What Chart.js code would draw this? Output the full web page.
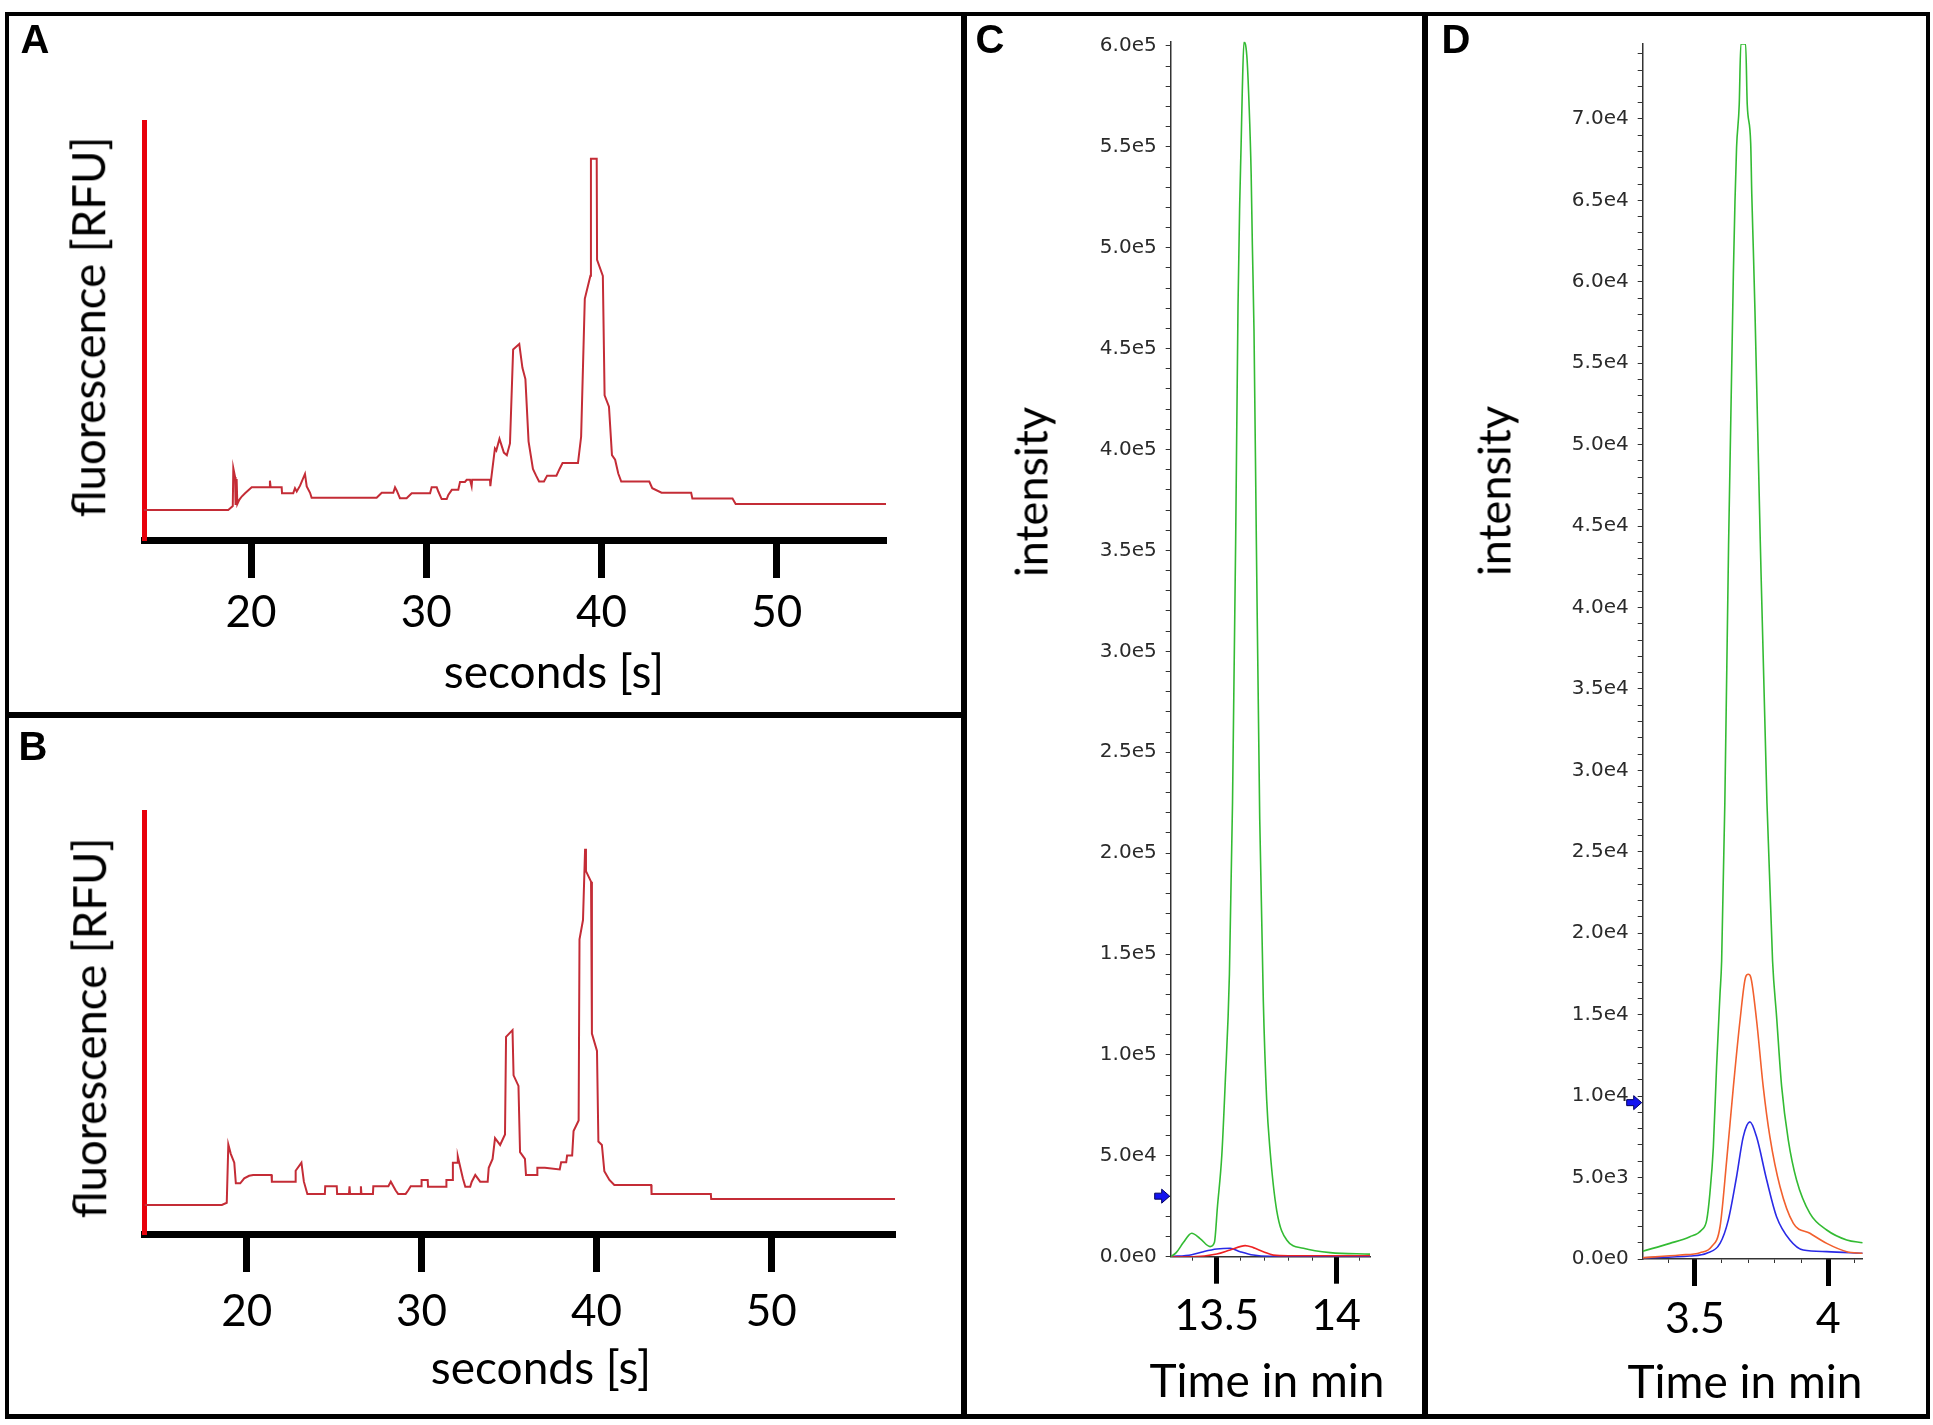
<!DOCTYPE html>
<html>
<head>
<meta charset="utf-8">
<script src="https://cdn.jsdelivr.net/npm/chart.js@4.4.1/dist/chart.umd.min.js"></script>
<style>
  html, body { margin: 0; background: #fff; }
  #page { position: relative; width: 1933px; height: 1425px; overflow: hidden; background: #fff; }
  .rule { position: absolute; background: #000; z-index: 3; }
  .lbl { position: absolute; z-index: 4; white-space: nowrap; line-height: 1; color: #000;
         font-family: Lato, "Open Sans", sans-serif; transform: translate(-50%, -50%); }
  .rot { transform: translate(-50%, -50%) rotate(-90deg); }
  .letter { font-family: "Liberation Sans", Arial, sans-serif; font-weight: bold; font-size: 40px; }
</style>
</head>
<body>
<div id="page">
  <!-- frame -->
  <div class="rule" style="left:5px;top:12px;width:1925px;height:4px"></div>
  <div class="rule" style="left:5px;top:1414px;width:1925px;height:5px"></div>
  <div class="rule" style="left:5px;top:12px;width:4px;height:1407px"></div>
  <div class="rule" style="left:1926px;top:12px;width:4px;height:1407px"></div>
  <div class="rule" style="left:961px;top:12px;width:6px;height:1407px"></div>
  <div class="rule" style="left:1422px;top:12px;width:6px;height:1407px"></div>
  <div class="rule" style="left:5px;top:712px;width:959px;height:6px"></div>

  <!-- panel letters -->
  <div class="lbl letter" style="left:35px;top:39px">A</div>
  <div class="lbl letter" style="left:33px;top:746px">B</div>
  <div class="lbl letter" style="left:990px;top:39px">C</div>
  <div class="lbl letter" style="left:1456px;top:39px">D</div>

  <!-- axis titles -->
  <div class="lbl rot" style="left:88px;top:327px;font-size:45.5px">fluorescence [RFU]</div>
  <div class="lbl" style="left:554px;top:671px;font-size:46px">seconds [s]</div>
  <div class="lbl rot" style="left:89px;top:1028px;font-size:45.5px">fluorescence [RFU]</div>
  <div class="lbl" style="left:541px;top:1367px;font-size:46px">seconds [s]</div>
  <div class="lbl rot" style="left:1031px;top:492px;font-size:45px">intensity</div>
  <div class="lbl" style="left:1267px;top:1380px;font-size:46px">Time in min</div>
  <div class="lbl rot" style="left:1494px;top:491px;font-size:45px">intensity</div>
  <div class="lbl" style="left:1745px;top:1381px;font-size:46px">Time in min</div>
</div>

<script>
// ---- panel A: electropherogram ----
const aTime = [13.893, 18.70, 18.96, 18.99, 19.09, 19.12, 19.18, 19.22, 19.33, 19.47, 19.66, 20.04, 21.04, 21.08, 21.12, 21.75, 21.77, 22.41, 22.51, 22.61, 22.80, 23.08, 23.18, 23.37, 23.46, 27.17, 27.46, 28.12, 28.22, 28.32, 28.50, 28.88, 29.17, 30.22, 30.31, 30.60, 30.69, 30.88, 31.17, 31.26, 31.46, 31.83, 31.93, 32.21, 32.31, 32.50, 32.59, 32.62, 33.64, 33.66, 33.70, 33.92, 34.00, 34.18, 34.43, 34.60, 34.78, 34.96, 35.31, 35.49, 35.66, 35.84, 36.09, 36.27, 36.44, 36.72, 36.90, 37.43, 37.61, 37.78, 38.66, 38.84, 39.05, 39.37, 39.40, 39.73, 39.75, 40.08, 40.18, 40.43, 40.60, 40.78, 40.96, 41.13, 42.73, 42.90, 43.43, 45.12, 45.19, 47.48, 47.66, 56.24];
const aSignal = [7.2, 7.2, 8.1, 17.2, 15.1, 8.4, 14.6, 8.6, 9.6, 10.4, 11.2, 12.6, 12.6, 14.2, 12.6, 12.6, 11.2, 11.2, 12.4, 11.6, 13.0, 15.8, 12.8, 11.3, 10.1, 10.1, 11.3, 11.3, 12.6, 11.8, 10.0, 10.0, 11.2, 11.2, 12.6, 12.6, 11.6, 9.8, 9.8, 10.8, 12.0, 12.0, 13.9, 13.9, 14.4, 14.4, 12.9, 14.4, 14.4, 12.9, 14.4, 21.9, 21.4, 24.2, 20.9, 20.3, 23.1, 45.6, 46.9, 41.2, 38.5, 23.6, 17.0, 15.4, 14.0, 14.0, 15.4, 15.4, 17.0, 18.4, 18.4, 24.7, 57.7, 63.2, 91.2, 91.2, 67.0, 63.2, 34.6, 31.9, 20.3, 19.2, 15.9, 14.0, 14.0, 12.4, 11.3, 11.3, 9.9, 9.9, 8.6, 8.6];

// ---- panel B: electropherogram ----
const bTime = [14.157, 18.58, 18.86, 18.95, 19.09, 19.29, 19.38, 19.63, 19.86, 20.14, 20.37, 21.42, 21.44, 22.78, 22.80, 23.13, 23.27, 23.47, 24.47, 24.49, 25.15, 25.17, 25.85, 25.88, 25.91, 26.50, 26.53, 26.56, 27.22, 27.24, 28.10, 28.24, 28.52, 28.66, 29.09, 29.23, 29.38, 29.98, 30.00, 30.35, 30.37, 31.40, 31.42, 31.77, 31.79, 32.05, 32.07, 32.22, 32.36, 32.50, 32.78, 32.87, 33.07, 33.35, 33.78, 33.84, 34.06, 34.20, 34.49, 34.77, 34.83, 35.20, 35.26, 35.54, 35.63, 35.91, 35.97, 36.60, 36.62, 37.05, 37.90, 37.98, 38.27, 38.32, 38.61, 38.69, 38.98, 39.03, 39.23, 39.35, 39.40, 39.69, 39.74, 40.03, 40.11, 40.31, 40.45, 40.74, 41.02, 43.13, 43.15, 46.54, 46.56, 57.07];
const bSignal = [6.9, 6.9, 7.4, 21.2, 19.0, 16.9, 12.0, 12.0, 13.2, 13.8, 14.0, 14.0, 12.4, 12.4, 15.0, 16.9, 12.4, 9.5, 9.5, 11.3, 11.3, 9.5, 9.5, 11.3, 9.5, 9.5, 11.3, 9.5, 9.5, 11.3, 11.3, 12.4, 10.3, 9.5, 9.5, 10.3, 11.3, 11.3, 12.8, 12.8, 11.2, 11.2, 12.8, 12.8, 16.9, 16.9, 18.4, 15.7, 13.2, 11.2, 11.2, 12.4, 14.0, 12.4, 12.4, 15.7, 17.8, 22.7, 21.1, 23.6, 46.7, 48.3, 37.6, 35.1, 19.4, 17.8, 14.0, 14.0, 15.7, 15.7, 15.3, 17.0, 17.0, 18.6, 18.6, 24.4, 26.9, 69.8, 74.4, 91.3, 86.0, 83.5, 47.5, 43.4, 21.9, 21.1, 14.9, 12.8, 11.6, 11.6, 9.5, 9.5, 8.3, 8.3];

const secondTicks = [20, 30, 40, 50];

// ---- panel C: chromatogram ----
const cGreenTime = [13.307, 13.33, 13.36, 13.395, 13.43, 13.472, 13.49, 13.503, 13.521, 13.535, 13.553, 13.566, 13.579, 13.589, 13.596, 13.602, 13.607, 13.614, 13.626, 13.635, 13.644, 13.649, 13.656, 13.666, 13.680, 13.695, 13.709, 13.723, 13.751, 13.793, 13.863, 13.975, 14.142];
const cGreen = [0, 2000, 7000, 11600, 9000, 5000, 7000, 25000, 50000, 85000, 140000, 225000, 353000, 471000, 521000, 551000, 578000, 602000, 595000, 572000, 537000, 502000, 459000, 353000, 217000, 127000, 78000, 53000, 23000, 8300, 4200, 2000, 1300];
const cRedTime = [13.307, 13.40, 13.50, 13.556, 13.619, 13.653, 13.695, 13.737, 13.80, 14.142];
const cRed = [0, 0, 1300, 3300, 5500, 4500, 2500, 800, 500, 500];
const cBlueTime = [13.307, 13.395, 13.444, 13.50, 13.556, 13.598, 13.653, 13.723, 14.142];
const cBlue = [0, 1000, 2500, 3800, 4200, 2500, 800, 200, 200];
const cTimeTicks = [13.5, 14];
const cMarker = 30000;

// ---- panel D: chromatogram ----
const dGreenTime = [3.304, 3.406, 3.481, 3.525, 3.544, 3.556, 3.569, 3.581, 3.594, 3.600, 3.612, 3.626, 3.644, 3.650, 3.656, 3.666, 3.672, 3.690, 3.696, 3.709, 3.713, 3.719, 3.725, 3.745, 3.770, 3.791, 3.806, 3.825, 3.850, 3.881, 3.931, 3.994, 4.069, 4.129];
const dGreen = [480, 960, 1370, 1780, 2390, 4030, 6890, 11800, 16300, 18300, 28000, 43800, 60500, 64900, 68250, 70900, 74600, 74600, 70900, 68500, 65400, 61900, 58200, 44000, 28000, 18300, 14900, 10600, 7300, 4850, 2800, 1780, 1170, 1000];
const dOrangeTime = [3.304, 3.444, 3.519, 3.562, 3.594, 3.619, 3.644, 3.669, 3.690, 3.700, 3.709, 3.731, 3.756, 3.781, 3.819, 3.869, 3.931, 3.994, 4.069, 4.129];
const dOrange = [80, 245, 390, 755, 1980, 6070, 10570, 14660, 17320, 17480, 17320, 14660, 10570, 7500, 4440, 2190, 1580, 960, 450, 350];
const dBlueTime = [3.304, 3.481, 3.544, 3.594, 3.625, 3.656, 3.681, 3.706, 3.731, 3.769, 3.806, 3.856, 3.906, 3.994, 4.129];
const dBlue = [80, 184, 350, 960, 2390, 5050, 7500, 8420, 7500, 4850, 2600, 1165, 550, 450, 350];
const dTimeTicks = [3.5, 4];
const dMarker = 9600;

const FONT = 'Lato, "Open Sans", sans-serif';

// page boxes of each panel and of its plot area
const panels = {
  A: { l: 9, t: 16, r: 961, b: 712 },
  B: { l: 9, t: 718, r: 961, b: 1414 },
  C: { l: 967, t: 16, r: 1422, b: 1414 },
  D: { l: 1428, t: 16, r: 1926, b: 1414 }
};
const plotAreas = {
  A: { l: 144, t: 122, r: 886, b: 540 },
  B: { l: 144.5, t: 812, r: 895, b: 1234 },
  C: { l: 1170.7, t: 41.7, r: 1370, b: 1256.7 },
  D: { l: 1642.7, t: 44, r: 1862.7, b: 1259 }
};

function pad(p, a, yW, xH) {
  return { left: a.l - p.l - yW, top: a.t - p.t, right: p.r - a.r, bottom: p.b - a.b - xH };
}

function holder(id, p) {
  const div = document.createElement('div');
  div.style.cssText = 'position:absolute;z-index:1;left:' + p.l + 'px;top:' + p.t + 'px;width:' +
    (p.r - p.l) + 'px;height:' + (p.b - p.t) + 'px';
  const cv = document.createElement('canvas');
  cv.id = id;
  div.appendChild(cv);
  document.getElementById('page').appendChild(div);
  return cv;
}

const pts = (xs, ys) => xs.map((x, i) => ({ x: x, y: ys[i] }));
const isMultiple = (v, step) => Math.abs(v / step - Math.round(v / step)) < 1e-6;
const expLabel = v => v.toExponential(1).replace('e+', 'e');

// every multiple of step inside the scale range
function stepTicks(scale, step) {
  const out = [];
  const first = Math.ceil(scale.min / step - 1e-9);
  const last = Math.floor(scale.max / step + 1e-9);
  for (let k = first; k <= last; k++) out.push({ value: +(k * step).toFixed(6) });
  return out;
}

// little blue arrow left of the intensity axis
const markerArrow = {
  id: 'markerArrow',
  afterDatasetsDraw(chart, args, opts) {
    if (opts.value == null) return;
    const ctx = chart.ctx;
    const y = chart.scales.y.getPixelForValue(opts.value);
    const x = chart.chartArea.left - 1;
    ctx.save();
    ctx.beginPath();
    ctx.moveTo(x, y);
    ctx.lineTo(x - 8, y - 7);
    ctx.lineTo(x - 8, y - 3);
    ctx.lineTo(x - 15, y - 3);
    ctx.lineTo(x - 15, y + 3);
    ctx.lineTo(x - 8, y + 3);
    ctx.lineTo(x - 8, y + 7);
    ctx.closePath();
    ctx.fillStyle = '#1414f0';
    ctx.fill();
    ctx.strokeStyle = '#000060';
    ctx.lineWidth = 1;
    ctx.stroke();
    ctx.restore();
  }
};

function electropherogram(key, time, signal, labelPad) {
  const p = panels[key], a = plotAreas[key];
  new Chart(holder('chart' + key, p), {
    type: 'line',
    data: {
      datasets: [{
        data: pts(time, signal),
        borderColor: '#c42c36',
        borderWidth: 2,
        pointRadius: 0,
        tension: 0,
        fill: false
      }]
    },
    options: {
      responsive: true,
      maintainAspectRatio: false,
      animation: false,
      events: [],
      layout: { padding: pad(p, a, 0, 100) },
      plugins: { legend: { display: false }, tooltip: { enabled: false } },
      scales: {
        x: {
          type: 'linear',
          min: time[0],
          max: time[time.length - 1],
          afterBuildTicks: s => { s.ticks = secondTicks.map(v => ({ value: v })); },
          afterFit: s => { s.height = 100; },
          border: { color: '#000', width: 7 },
          grid: { drawOnChartArea: false, drawTicks: true, tickLength: 38, tickWidth: 7, tickColor: '#000' },
          ticks: { autoSkip: false, maxRotation: 0, padding: labelPad, color: '#000',
                   font: { family: FONT, size: 44 }, callback: v => String(v) }
        },
        y: {
          type: 'linear',
          min: 0,
          max: 100,
          afterFit: s => { s.width = 0; },
          border: { color: '#e8000b', width: 5 },
          grid: { display: false },
          ticks: { display: false }
        }
      }
    }
  });
}

function chromatogram(key, series, yMax, yStep, yLabelStep, timeTicks, marker) {
  const p = panels[key], a = plotAreas[key];
  const xMin = series[0].t[0];
  const xMax = series[0].t[series[0].t.length - 1];
  new Chart(holder('chart' + key, p), {
    type: 'line',
    data: {
      datasets: series.map(s => ({
        data: pts(s.t, s.v),
        borderColor: s.c,
        borderWidth: 1.6,
        pointRadius: 0,
        cubicInterpolationMode: 'monotone',
        fill: false
      }))
    },
    options: {
      responsive: true,
      maintainAspectRatio: false,
      animation: false,
      events: [],
      layout: { padding: pad(p, a, 100, 80) },
      plugins: {
        legend: { display: false },
        tooltip: { enabled: false },
        markerArrow: { value: marker }
      },
      scales: {
        x: {
          type: 'linear',
          weight: 0,
          min: xMin,
          max: xMax,
          afterBuildTicks: s => { s.ticks = stepTicks(s, 0.1); },
          afterFit: s => { s.height = 0; },
          border: { color: '#333', width: 1.5 },
          grid: { drawOnChartArea: false, tickLength: 4, tickWidth: 1, tickColor: '#333' },
          ticks: { display: false, autoSkip: false }
        },
        x2: {
          type: 'linear',
          position: 'bottom',
          weight: 1,
          min: xMin,
          max: xMax,
          afterBuildTicks: s => { s.ticks = timeTicks.map(v => ({ value: v })); },
          afterFit: s => { s.height = 80; },
          border: { display: false },
          grid: { drawOnChartArea: false, tickLength: 27, tickWidth: 5, tickColor: '#000' },
          ticks: { autoSkip: false, maxRotation: 0, padding: 7, color: '#000',
                   font: { family: FONT, size: 43 }, callback: v => String(v) }
        },
        y: {
          type: 'linear',
          position: 'left',
          min: 0,
          max: yMax,
          afterBuildTicks: s => { s.ticks = stepTicks(s, yStep); },
          afterFit: s => { s.width = 100; },
          border: { color: '#333', width: 1.5 },
          grid: { drawOnChartArea: false, tickLength: 5, tickWidth: 1, tickColor: '#333' },
          ticks: {
            autoSkip: false,
            padding: 9,
            color: '#2a2a2a',
            font: { family: '"DejaVu Sans", sans-serif', size: 20 },
            callback: v => isMultiple(v, yLabelStep) ? expLabel(v) : ''
          }
        }
      }
    },
    plugins: [markerArrow]
  });
}

function build() {
  electropherogram('A', aTime, aSignal, 8);
  electropherogram('B', bTime, bSignal, 13);
  chromatogram('C', [
    { t: cGreenTime, v: cGreen, c: '#33bb33' },
    { t: cRedTime, v: cRed, c: '#ee2222' },
    { t: cBlueTime, v: cBlue, c: '#2a2ae6' }
  ], 602100, 10000, 50000, cTimeTicks, cMarker);
  chromatogram('D', [
    { t: dGreenTime, v: dGreen, c: '#33bb33' },
    { t: dOrangeTime, v: dOrange, c: '#f2602e' },
    { t: dBlueTime, v: dBlue, c: '#2a2ae6' }
  ], 74600, 1000, 5000, dTimeTicks, dMarker);
}

Promise.all([
  document.fonts.load('44px Lato'),
  document.fonts.load('20px "DejaVu Sans"')
]).then(build, build);
</script>
</body>
</html>
